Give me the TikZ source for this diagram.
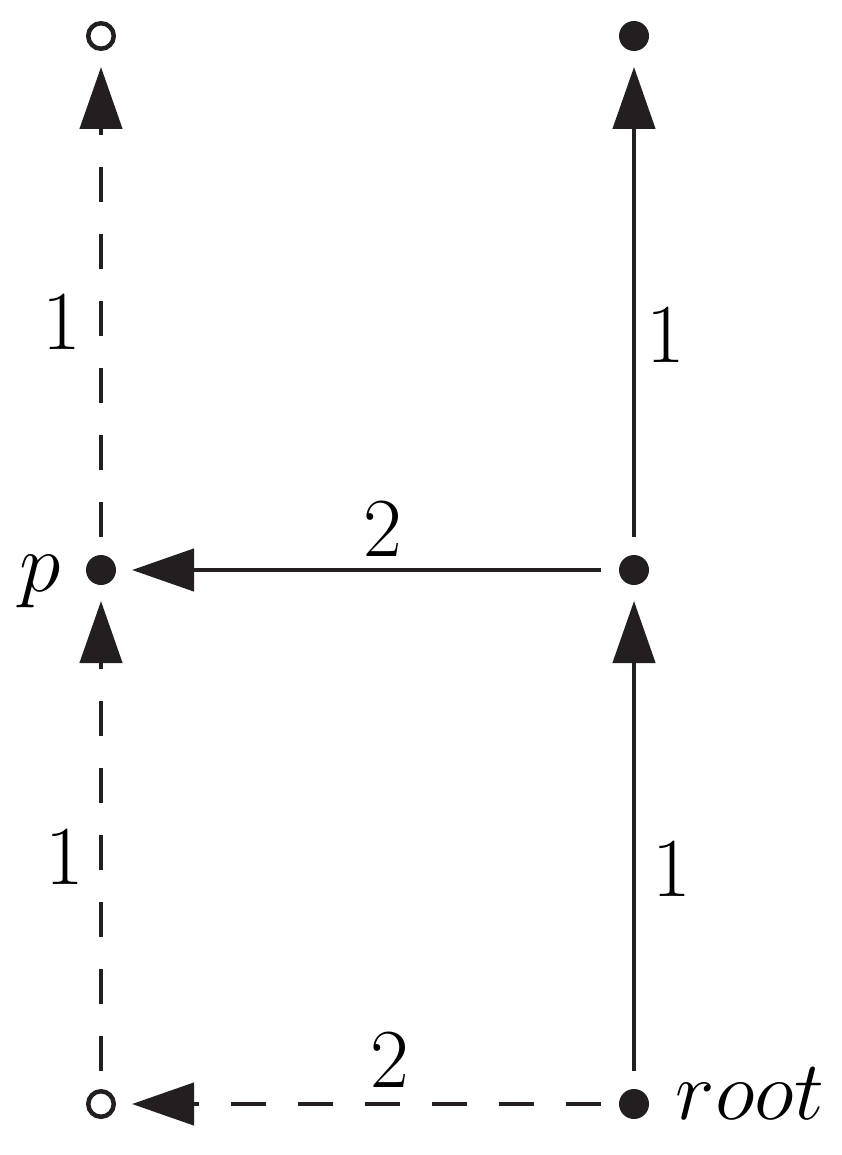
\documentclass[tikz,border=0pt]{standalone}
\usepackage{fix-cm}
\usetikzlibrary{arrows.meta}
\definecolor{ink}{RGB}{35,31,32}
\begin{document}
\begin{tikzpicture}[x=1pt,y=-1pt,
  dotnode/.style={circle,fill=ink,inner sep=0pt,minimum size=30pt,outer sep=0pt},
  opennode/.style={circle,draw=ink,line width=4.5pt,fill=white,inner sep=0pt,minimum size=25.5pt,outer sep=2.25pt},
  edge/.style={draw=ink,line width=4.5pt,-{Triangle[length=62pt,width=42pt]},shorten <=18pt,shorten >=16pt},
  dashedge/.style={edge,dash pattern=on 35pt off 32pt},
  lbl/.style={inner sep=0pt,font=\fontsize{84}{100}\selectfont,text=black}]
\useasboundingbox (0,0) rectangle (841,1155);
\node[opennode] (tl) at (101,36) {};
\node[dotnode] (tr) at (634,36) {};
\node[dotnode] (p) at (101,570) {};
\node[dotnode] (mr) at (634,570) {};
\node[opennode] (bl) at (101,1104) {};
\node[dotnode] (root) at (634,1104) {};
\draw[edge] (root) -- (mr);
\draw[edge] (mr) -- (tr);
\draw[edge] (mr) -- (p);
\draw[dashedge] (root) -- (bl);
\draw[dashedge] (bl) -- (p);
\draw[dashedge] (p) -- (tl);
\node[lbl] (l1) at (61.5,322) {1};
\node[lbl] (l2) at (64.5,857) {1};
\node[lbl] (l3) at (666,335) {1};
\node[lbl] (l4) at (672,869) {1};
\node[lbl] (l5) at (383,529) {2};
\node[lbl] (l6) at (390,1060) {2};
\node[lbl,anchor=base] (lp) at (40,591) {$p$};
\node[lbl,anchor=base] (lroot) at (750,1119) {$root$};
\end{tikzpicture}
\end{document}
